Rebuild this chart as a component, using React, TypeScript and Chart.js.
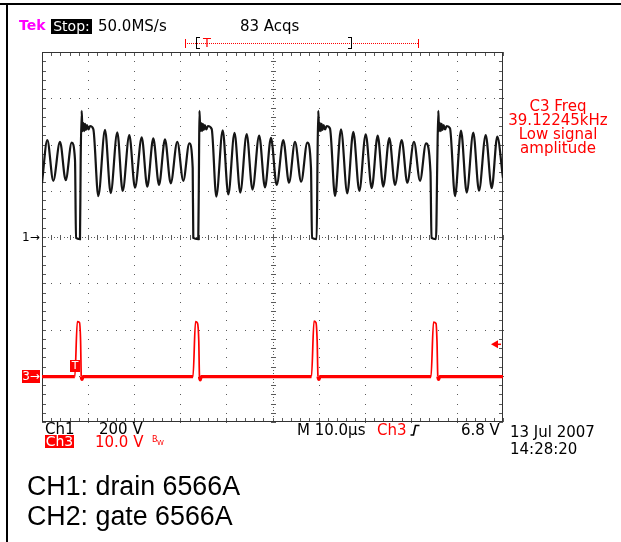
import React, { useEffect, useRef } from 'react';
import { Chart, registerables } from 'chart.js';

Chart.register(...registerables);

// ---- scope settings ----
const timePerDivUs = 10;
const ch1VoltsPerDiv = 200;
const ch3VoltsPerDiv = 10;
const ch3OffsetDiv = -3;
const ch3TriggerLevelV = 6.8;
const horizontalDivs = 10;
const verticalDivs = 8;

// ---- CH1 (drain) trace, time in µs, volts ----
const ch1TimeUs = [
  0, 1.15, 2.45, 3.9, 5.14, 6.44, 7.16, 7.38, 8.24, 8.39, 8.61,
  8.78, 8.96, 9.15, 9.33, 9.54, 9.76, 10.09, 10.41, 11.13,
  12.21, 13.67, 14.9, 16.33, 17.5, 18.94, 20.17, 21.63, 22.84, 24.14, 25.38, 26.68, 27.92, 29.35, 30.65, 31.95,
  32.69, 32.82, 33.9, 34.06, 34.16,
  34.34, 34.51, 34.71, 34.88, 35.1, 35.31, 35.64, 35.97, 36.81,
  37.81, 39.2, 40.41, 41.76, 43.01, 44.4, 45.66, 47.11, 48.37, 49.67, 50.91, 52.34, 53.58, 54.88, 56.22, 57.55,
  58.35, 58.57, 59.59, 59.76, 59.93,
  60.11, 60.28, 60.48, 60.65, 60.87, 61.08, 61.41, 61.74, 62.47,
  63.56, 64.86, 66.22, 67.53, 68.83, 70.22, 71.52, 72.82, 74.03, 75.34, 76.57, 78.03, 79.24, 80.69, 82.0, 83.3,
  84.27, 84.49, 85.47, 85.75, 85.97,
  86.14, 86.31, 86.51, 86.68, 86.9, 87.11, 87.44, 87.77, 88.5,
  89.59, 90.89, 92.13, 93.56, 94.79, 96.25, 97.55, 98.76, 100,
];
const ch1Volts = [
  234, 419, 243, 412, 246, 408, 333, -4, -9, 333, 546,
  458, 493, 458, 489, 463, 484, 465, 480, 467,
  177, 463, 190, 453, 199, 441, 213, 431, 218, 427, 225, 422, 232, 412, 243, 405,
  298, -4, -9, 333, 546,
  458, 493, 458, 489, 463, 484, 465, 480, 467,
  175, 461, 184, 450, 192, 445, 205, 439, 214, 429, 225, 419, 235, 411, 239, 408,
  298, -4, -9, 333, 546,
  458, 493, 458, 489, 463, 484, 465, 480, 469,
  177, 466, 189, 455, 199, 444, 211, 438, 218, 428, 225, 419, 235, 412, 243, 405,
  281, -4, -9, 333, 546,
  458, 493, 458, 489, 463, 484, 465, 480, 470,
  177, 460, 192, 451, 200, 441, 211, 434, 255,
];

// ---- CH3 (gate) trace, time in µs, volts ----
const ch3TimeUs = [
  0,
  7.12, 7.66, 8.13, 8.37, 8.52, 8.68, 8.89,
  32.75, 33.3, 33.73, 34.01, 34.16, 34.34, 34.55,
  58.46, 59.0, 59.43, 59.69, 59.87, 60.08, 60.3,
  84.38, 84.92, 85.47, 85.68, 85.86, 86.03, 86.25,
  100,
];
const ch3Volts = [
  -0.2,
  -0.2, 11.7, 11.5, 7.5, -0.2, -0.8, -0.2,
  -0.2, 11.7, 11.4, 7.5, -0.2, -0.9, -0.2,
  -0.2, 11.8, 11.5, 7.5, -0.2, -0.8, -0.2,
  -0.2, 11.6, 11.3, 7.5, -0.2, -0.8, -0.2,
  -0.2,
];

const SCOPE_FONT = '"DejaVu Sans", Verdana, sans-serif';
const RED = '#ff0000';

const scopeGrid = {
  id: 'scopeGrid',
  beforeDatasetsDraw(chart: any) {
    const { ctx, chartArea: a, scales } = chart;
    const xs = scales.x;
    const ys = scales.y;
    const xMax = timePerDivUs * horizontalDivs;
    const yHalf = verticalDivs / 2;
    ctx.save();
    ctx.fillStyle = '#5a5a5a';
    for (let i = 1; i < horizontalDivs; i++) {
      const px = Math.round(xs.getPixelForValue(i * timePerDivUs));
      for (let j = -yHalf * 5; j <= yHalf * 5; j++) {
        const py = Math.round(ys.getPixelForValue(j / 5));
        ctx.fillRect(px, py, 1, 1);
      }
    }
    for (let k = -yHalf + 1; k < yHalf; k++) {
      const py = Math.round(ys.getPixelForValue(k));
      for (let j = 0; j <= horizontalDivs * 5; j++) {
        const px = Math.round(xs.getPixelForValue((j * timePerDivUs) / 5));
        ctx.fillRect(px, py, 1, 1);
      }
    }
    const cx = Math.round(xs.getPixelForValue(xMax / 2));
    const cy = Math.round(ys.getPixelForValue(0));
    for (let j = -yHalf * 15; j <= yHalf * 15; j++) {
      const py = Math.round(ys.getPixelForValue(j / 15));
      ctx.fillRect(cx, py, 1, 1);
    }
    for (let j = 0; j <= horizontalDivs * 15; j++) {
      const px = Math.round(xs.getPixelForValue((j * timePerDivUs) / 15));
      ctx.fillRect(px, cy, 1, 1);
    }
    for (let j = -yHalf * 5; j <= yHalf * 5; j++) {
      const py = Math.round(ys.getPixelForValue(j / 5));
      ctx.fillRect(cx - 2, py, 5, 1);
      ctx.fillRect(a.left, py, 4, 1);
      ctx.fillRect(a.right - 4, py, 4, 1);
    }
    for (let j = 0; j <= horizontalDivs * 5; j++) {
      const px = Math.round(xs.getPixelForValue((j * timePerDivUs) / 5));
      ctx.fillRect(px, cy - 2, 1, 5);
      ctx.fillRect(px, a.top, 1, 4);
      ctx.fillRect(px, a.bottom - 4, 1, 4);
    }
    ctx.strokeStyle = '#333';
    ctx.lineWidth = 1;
    ctx.strokeRect(Math.round(a.left) + 0.5, Math.round(a.top) + 0.5, Math.round(a.right - a.left) - 1, Math.round(a.bottom - a.top) - 1);
    ctx.restore();
  },
  afterDatasetsDraw(chart: any) {
    const { ctx, chartArea: a, scales } = chart;
    const y = scales.y.getPixelForValue(ch3TriggerLevelV / ch3VoltsPerDiv + ch3OffsetDiv);
    const x0 = a.right - 12;
    ctx.save();
    ctx.fillStyle = RED;
    ctx.strokeStyle = RED;
    ctx.beginPath();
    ctx.moveTo(x0, y);
    ctx.lineTo(x0 + 7, y - 4);
    ctx.lineTo(x0 + 7, y + 4);
    ctx.closePath();
    ctx.fill();
    ctx.lineWidth = 1.5;
    ctx.beginPath();
    ctx.moveTo(x0 + 5, y);
    ctx.lineTo(a.right - 2, y);
    ctx.stroke();
    ctx.restore();
  },
};

type TxtProps = {
  x: number;
  capTop: number;
  size?: number;
  color?: string;
  bold?: boolean;
  family?: string;
  children: React.ReactNode;
};

function Txt({ x, capTop, size = 15, color = '#000', bold = false, family = SCOPE_FONT, children }: TxtProps) {
  return (
    <span
      style={{
        position: 'absolute',
        left: x,
        top: capTop - 0.12 * size,
        fontSize: size,
        lineHeight: `${size}px`,
        fontFamily: family,
        fontWeight: bold ? 'bold' : 'normal',
        color,
        whiteSpace: 'pre',
      }}
    >
      {children}
    </span>
  );
}

function Box({ x, y, w, h, bg, children, size = 13, color = '#fff' }: any) {
  return (
    <div
      style={{
        position: 'absolute',
        left: x,
        top: y,
        width: w,
        height: h,
        background: bg,
        color,
        fontFamily: SCOPE_FONT,
        fontSize: size,
        lineHeight: `${h}px`,
        textAlign: 'center',
        whiteSpace: 'pre',
        overflow: 'visible',
      }}
    >
      {children}
    </div>
  );
}

export default function App() {
  const ref = useRef<HTMLCanvasElement>(null);

  useEffect(() => {
    const ch1Points = ch1TimeUs.map((t, i) => ({ x: t, y: ch1Volts[i] / ch1VoltsPerDiv }));
    const ch3Points = ch3TimeUs.map((t, i) => ({ x: t, y: ch3Volts[i] / ch3VoltsPerDiv + ch3OffsetDiv }));
    const nearGround = (v: number) => Math.abs(v - ch3OffsetDiv) < 0.1;
    const chart = new Chart(ref.current as HTMLCanvasElement, {
      type: 'line',
      data: {
        datasets: [
          {
            label: 'CH1 drain',
            data: ch1Points,
            borderColor: '#151515',
            borderWidth: 2.2,
            pointRadius: 0,
            cubicInterpolationMode: 'monotone',
            fill: false,
          },
          {
            label: 'CH3 gate',
            data: ch3Points,
            borderColor: RED,
            borderWidth: 1.7,
            pointRadius: 0,
            cubicInterpolationMode: 'monotone',
            fill: false,
            segment: {
              borderWidth: (c: any) => (nearGround(c.p0.parsed.y) && nearGround(c.p1.parsed.y) ? 3.2 : 1.7),
            },
          } as any,
        ],
      },
      options: {
        animation: false,
        responsive: false,
        events: [],
        layout: { padding: { left: 42, top: 52, right: 118, bottom: 120 } },
        scales: {
          x: { type: 'linear', min: 0, max: timePerDivUs * horizontalDivs, display: false },
          y: { type: 'linear', min: -verticalDivs / 2, max: verticalDivs / 2, display: false },
        },
        plugins: { legend: { display: false }, tooltip: { enabled: false } },
      },
      plugins: [scopeGrid],
    });
    return () => chart.destroy();
  }, []);

  return (
    <div style={{ position: 'absolute', left: 0, top: 0, width: 621, height: 542, background: '#fff', overflow: 'hidden' }}>
      <canvas ref={ref} width={621} height={542} style={{ position: 'absolute', left: 0, top: 0, width: 621, height: 542 }} />

      {/* outer frame lines */}
      <div style={{ position: 'absolute', left: 0, top: 3, width: 621, height: 2, background: '#000' }} />
      <div style={{ position: 'absolute', left: 6, top: 3, width: 2, height: 539, background: '#000' }} />

      {/* top status bar */}
      <Txt x={19} capTop={20} size={14} color="#ff00ff" bold>Tek</Txt>
      <Box x={51} y={19} w={41} h={15} bg="#000" size={14}>Stop:</Box>
      <Txt x={98} capTop={21}>50.0MS/s</Txt>
      <Txt x={240} capTop={21}>83 Acqs</Txt>

      {/* record / trigger bracket */}
      <div style={{ position: 'absolute', left: 185, top: 43, width: 233, height: 0, borderTop: `1px dotted ${RED}` }} />
      <div style={{ position: 'absolute', left: 185, top: 39, width: 1, height: 9, background: RED }} />
      <div style={{ position: 'absolute', left: 418, top: 39, width: 1, height: 9, background: RED }} />
      <div style={{ position: 'absolute', left: 196, top: 37, width: 3, height: 10, borderLeft: '1.5px solid #000', borderTop: '1.5px solid #000', borderBottom: '1.5px solid #000' }} />
      <div style={{ position: 'absolute', left: 348, top: 37, width: 3, height: 10, borderRight: '1.5px solid #000', borderTop: '1.5px solid #000', borderBottom: '1.5px solid #000' }} />
      <Txt x={203} capTop={38} size={13} color={RED}>T</Txt>

      {/* measurement readout */}
      <div
        style={{
          position: 'absolute',
          left: 504,
          top: 98.8,
          width: 108,
          textAlign: 'center',
          color: RED,
          fontFamily: SCOPE_FONT,
          fontSize: 15,
          lineHeight: '14px',
        }}
      >
        <div>C3 Freq</div>
        <div>39.12245kHz</div>
        <div>Low signal</div>
        <div>amplitude</div>
      </div>

      {/* channel markers */}
      <Txt x={22} capTop={232} size={12}>1→</Txt>
      <Box x={22} y={370} w={18} h={13} bg={RED} size={12}>3→</Box>
      <Box x={70} y={360} w={10} h={12} bg={RED} size={11}>T</Box>

      {/* bottom readouts */}
      <Txt x={45} capTop={424}>Ch1</Txt>
      <Txt x={99} capTop={424}>200 V</Txt>
      <Box x={45} y={435} w={29} h={13} bg={RED} size={14}>Ch3</Box>
      <Txt x={95} capTop={436.5} color={RED}>10.0 V</Txt>
      <Txt x={152} capTop={437} size={8} color={RED}>B</Txt>
      <Txt x={157} capTop={441} size={7} color={RED}>W</Txt>
      <Txt x={297} capTop={424.5}>M 10.0µs</Txt>
      <Txt x={377} capTop={424.5} color={RED}>Ch3</Txt>
      <svg style={{ position: 'absolute', left: 410, top: 424 }} width={10} height={12}>
        <path d="M0.5 11 L3.5 11 L5.5 1.5 L9.5 1.5" stroke="#000" strokeWidth={1.6} fill="none" />
      </svg>
      <Txt x={461} capTop={424.5}>6.8 V</Txt>
      <Txt x={510} capTop={427}>13 Jul 2007</Txt>
      <Txt x={510} capTop={444}>14:28:20</Txt>

      {/* captions */}
      <Txt x={27} capTop={476} size={26.8} family='"Liberation Sans", Arial, sans-serif'>CH1: drain 6566A</Txt>
      <Txt x={27} capTop={506} size={26.8} family='"Liberation Sans", Arial, sans-serif'>CH2: gate 6566A</Txt>
    </div>
  );
}
